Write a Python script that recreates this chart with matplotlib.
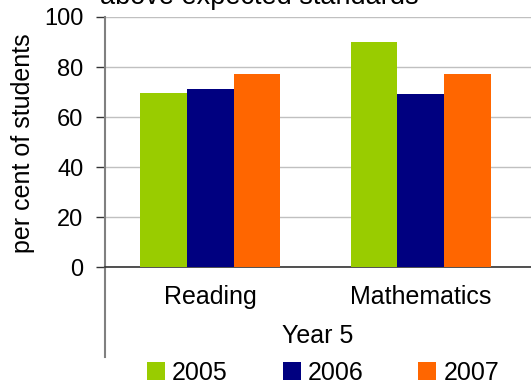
import matplotlib
matplotlib.use("Agg")
import matplotlib.pyplot as plt
from matplotlib.lines import Line2D

plt.rcParams['font.family'] = ['Liberation Sans', 'DejaVu Sans']

# Year 5 results, per cent of students at or above the expected standard
subjects = ["Reading", "Mathematics"]
years = ["2005", "2006", "2007"]
values_2005 = [69.5, 90]
values_2006 = [71, 69]
values_2007 = [77, 77]
colours = ["#99cc00", "#000080", "#ff6600"]

W, H = 531, 383
fig = plt.figure(figsize=(W / 100, H / 100), dpi=100)
ax = fig.add_axes([105 / W, (H - 267) / H, (531 - 105) / W, 250 / H])

x = list(range(len(subjects)))
bw = 0.222
series = [values_2005, values_2006, values_2007]
for i, (vals, col, yr) in enumerate(zip(series, colours, years)):
    ax.bar([p + (i - 1) * bw for p in x], vals, width=bw, color=col,
           label=yr, zorder=3)

ax.set_xlim(-0.5, 1.524)
ax.set_ylim(0, 100)
ax.set_yticks(range(0, 101, 20))
ax.set_xticks(x)
ax.set_xticklabels(subjects)

ax.yaxis.grid(True, color="#c0c0c0", linewidth=1.0, zorder=0)
ax.set_axisbelow(True)

for s in ["top", "right"]:
    ax.spines[s].set_visible(False)
ax.spines["left"].set_color("#808080")
ax.spines["left"].set_linewidth(1.5)
ax.spines["bottom"].set_color("#333333")
ax.spines["bottom"].set_linewidth(1.2)

# value axis runs down past the category labels
ax.add_line(Line2D([0, 0], [0, -0.36], transform=ax.transAxes,
                   color="#808080", linewidth=1.5, clip_on=False))

ax.tick_params(axis="y", direction="out", length=6.5, width=1.0,
               color="#333333", labelsize=17, pad=9)
ax.tick_params(axis="x", length=0, labelsize=18, pad=13)

ax.set_xlabel("Year 5", fontsize=18, labelpad=11)
fig.text(23 / W, 1 - 143 / H, "per cent of students", rotation=90,
         ha="center", va="center", fontsize=18)
fig.text(259 / W, 1 - 4 / H, "above expected standards", ha="center",
         va="baseline", fontsize=19.5)

fig.legend(loc="center", bbox_to_anchor=(323 / W, 1 - 373 / H), ncol=3,
           frameon=False, fontsize=18, handlelength=0.72, handleheight=0.72,
           handletextpad=0.28, columnspacing=2.2, borderpad=0,
           borderaxespad=0)

fig.savefig("out.png", dpi=100)
